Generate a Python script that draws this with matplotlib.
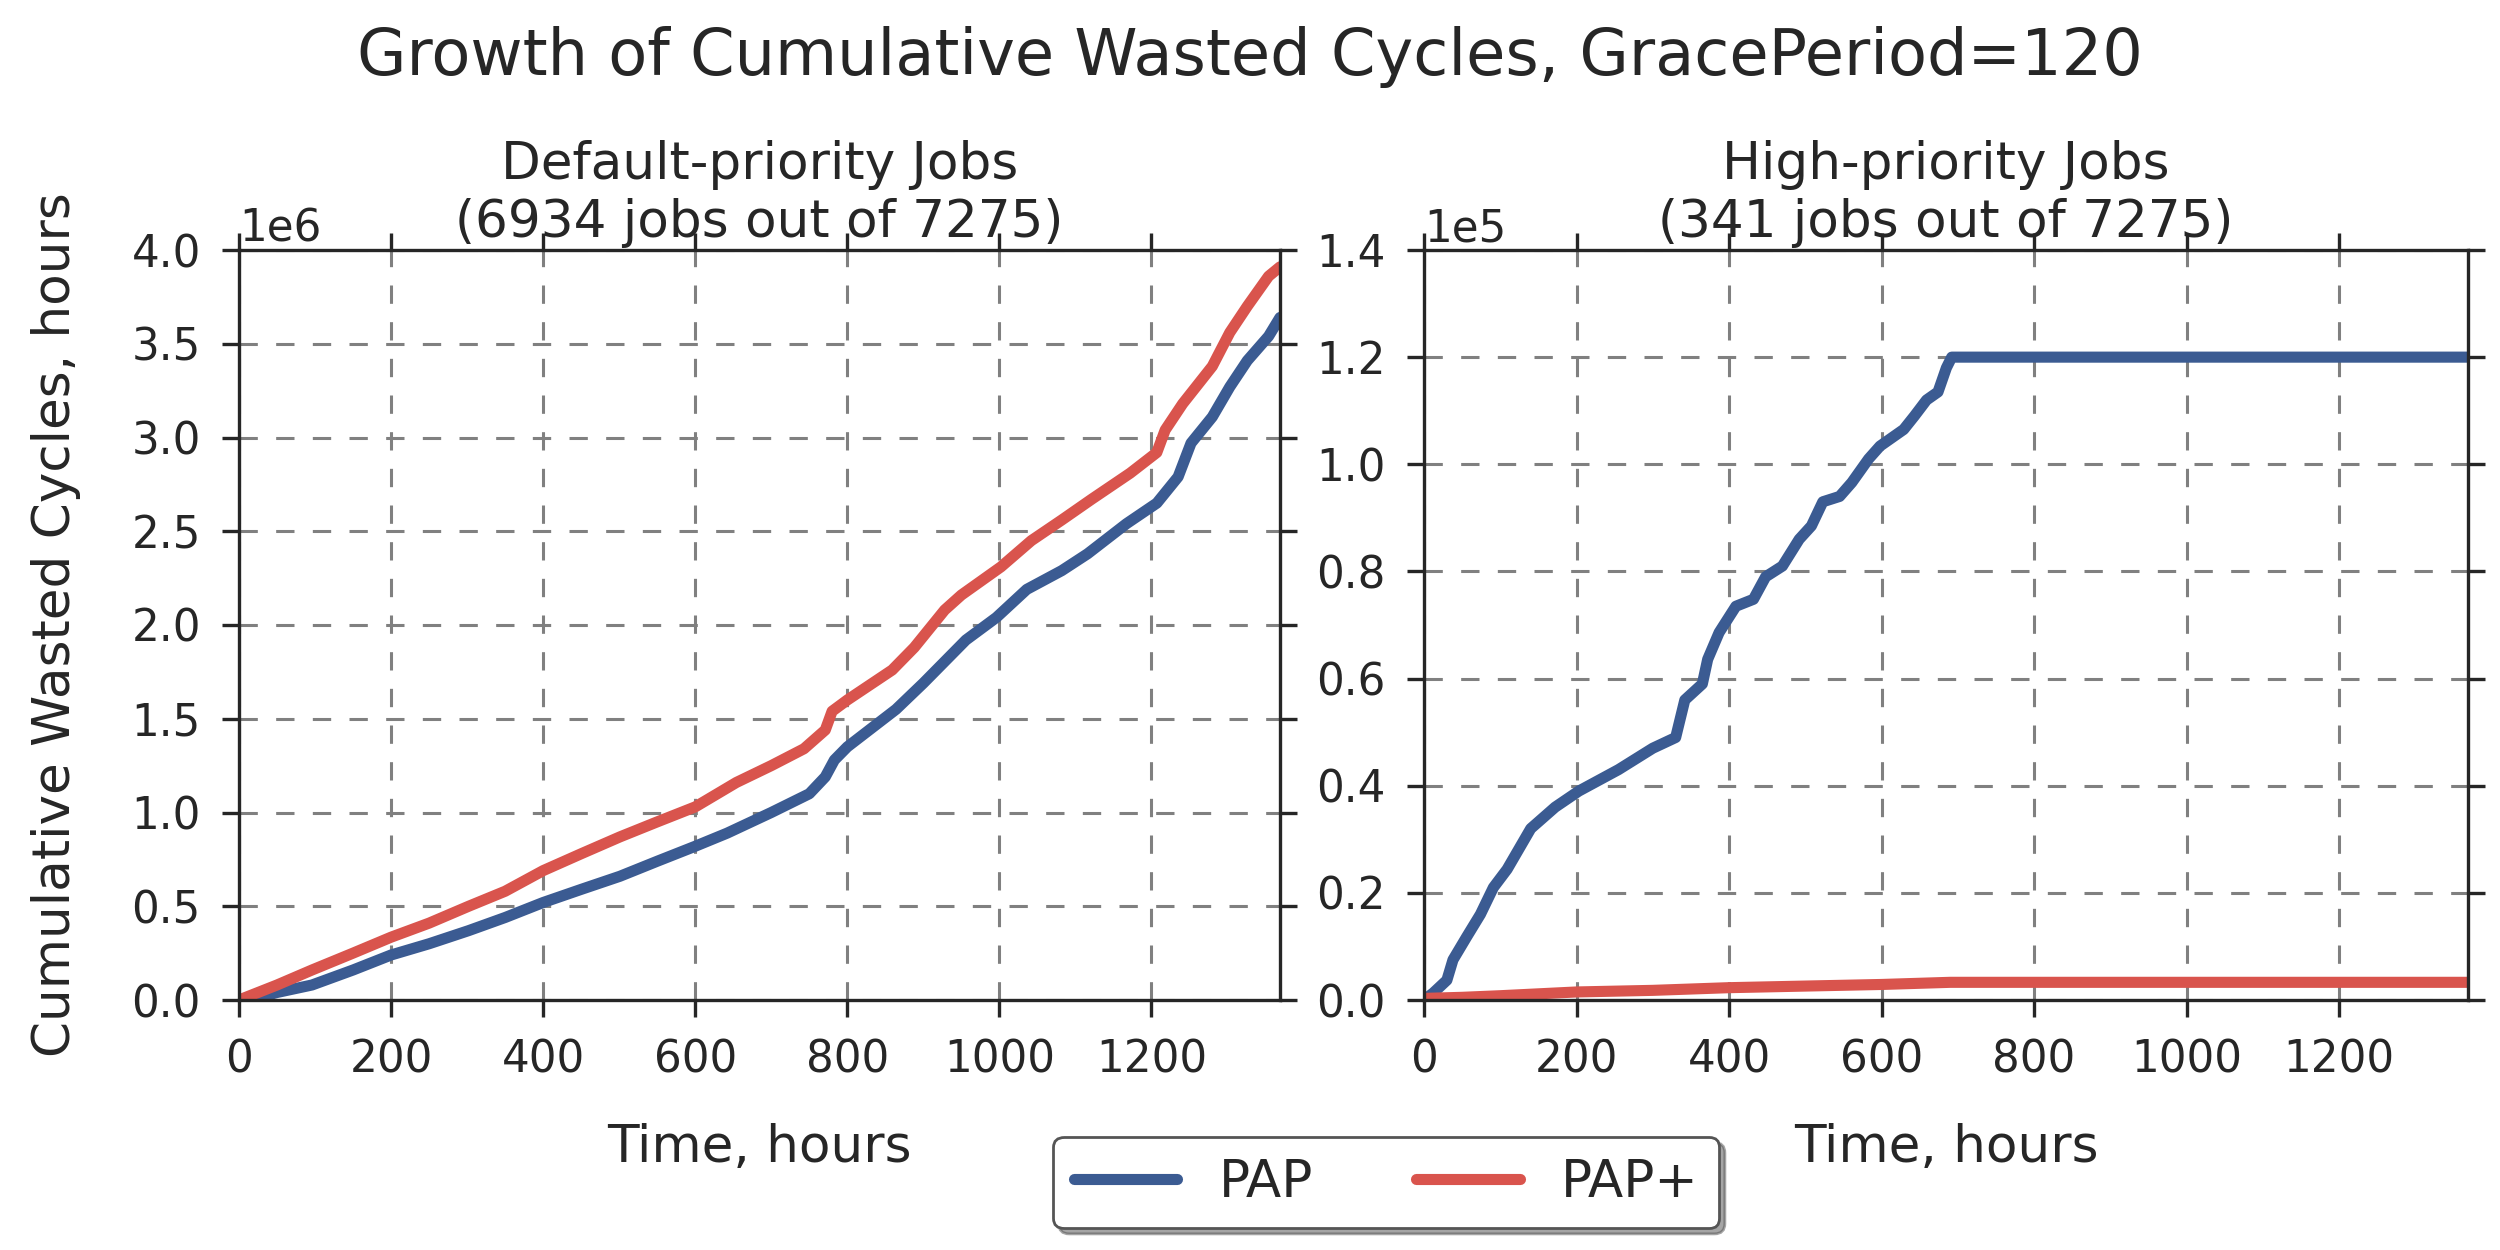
import numpy as np
import matplotlib
matplotlib.use("Agg")
import matplotlib.pyplot as plt

# ---------------- data ----------------
suptitle = "Growth of Cumulative Wasted Cycles, GracePeriod=120"
panel_titles = ["Default-priority Jobs\n(6934 jobs out of 7275)",
                "High-priority Jobs\n(341 jobs out of 7275)"]
series_names = ["PAP", "PAP+"]
xlabel = "Time, hours"
ylabel = "Cumulative Wasted Cycles, hours"
x_ticks = [0, 200, 400, 600, 800, 1000, 1200]
left_yticks = [0.0, 0.5, 1.0, 1.5, 2.0, 2.5, 3.0, 3.5, 4.0]      # x 1e6
right_yticks = [0.0, 0.2, 0.4, 0.6, 0.8, 1.0, 1.2, 1.4]          # x 1e5

# Default-priority jobs (values in millions of hours)
dp_pap_t = [0, 15, 50, 96, 150, 200, 250, 302, 350, 400, 450, 501, 550, 600,
            642, 700, 750, 771, 783, 800, 864, 900, 956, 996, 1036, 1082,
            1116, 1167, 1207, 1235, 1252, 1280, 1303, 1326, 1354, 1369]
dp_pap_v = [0.0, 0.0, 0.04, 0.08, 0.16, 0.24, 0.30, 0.37, 0.44, 0.52, 0.59,
            0.66, 0.74, 0.82, 0.89, 1.00, 1.10, 1.19, 1.28, 1.35, 1.55, 1.69,
            1.92, 2.04, 2.19, 2.29, 2.38, 2.54, 2.65, 2.79, 2.97, 3.11, 3.27,
            3.41, 3.54, 3.64]
dp_papp_t = [0, 50, 96, 150, 200, 250, 302, 350, 400, 450, 501, 550, 600, 654,
             700, 743, 771, 780, 800, 859, 888, 928, 950, 1002, 1042, 1082,
             1121, 1172, 1207, 1218, 1241, 1280, 1303, 1326, 1354, 1369]
dp_papp_v = [0.0, 0.08, 0.16, 0.25, 0.335, 0.41, 0.50, 0.58, 0.69, 0.78, 0.87,
             0.95, 1.03, 1.16, 1.25, 1.34, 1.44, 1.54, 1.60, 1.76, 1.88, 2.08,
             2.16, 2.31, 2.45, 2.56, 2.67, 2.81, 2.92, 3.04, 3.18, 3.38, 3.56,
             3.70, 3.86, 3.91]

# High-priority jobs (values in units of 1e5 hours)
hp_pap_t = [0, 12, 30, 38, 56, 74, 91, 109, 140, 172, 203, 255, 300, 330, 342,
            365, 372, 387, 409, 432, 448, 470, 492, 508, 523, 545, 561, 583,
            598, 629, 643, 659, 674, 685, 692, 1369]
hp_pap_v = [0.0, 0.013, 0.037, 0.075, 0.118, 0.16, 0.21, 0.244, 0.32, 0.36,
            0.39, 0.43, 0.47, 0.49, 0.56, 0.59, 0.636, 0.686, 0.735, 0.748,
            0.79, 0.81, 0.86, 0.885, 0.93, 0.94, 0.966, 1.01, 1.034, 1.065,
            1.09, 1.12, 1.135, 1.18, 1.20, 1.20]
hp_papp_t = [0, 50, 100, 200, 300, 400, 500, 600, 690, 1369]
hp_papp_v = [0.003, 0.005, 0.008, 0.015, 0.018, 0.023, 0.026, 0.029, 0.033, 0.033]

colors = ["#3b5b92", "#d9544d"]   # denim blue, pale red

# ---------------- style ----------------
dark = "#262626"
plt.rcParams.update({
    "font.family": ["DejaVu Sans"],
    "text.color": dark,
    "axes.labelcolor": dark,
    "xtick.color": dark,
    "ytick.color": dark,
    "axes.edgecolor": dark,
    "axes.linewidth": 1.2,
})

fig = plt.figure(figsize=(12.5, 6.25), dpi=200)
ax1 = fig.add_axes([0.0956, 0.2, 0.4164, 0.6])
ax2 = fig.add_axes([0.5696, 0.2, 0.4176, 0.6])

def style(ax, yticks, scale, ymax):
    ax.set_xlim(0, 1369)
    ax.set_ylim(0, ymax)
    ax.set_xticks(x_ticks)
    ax.set_yticks([v * scale for v in yticks])
    ax.ticklabel_format(axis="y", style="sci", scilimits=(0, 0))
    ax.tick_params(axis="both", which="major", direction="out", length=6,
                   width=1.2, labelsize=15.7, pad=7.7,
                   top=True, right=True, labeltop=False, labelright=False)
    ax.yaxis.get_offset_text().set_fontsize(15.7)
    ax.grid(True, color="#808080", linestyle=(0, (6, 6)), linewidth=1.1)
    ax.set_axisbelow(True)
    ax.set_xlabel(xlabel, fontsize=18.6, labelpad=15)

style(ax1, left_yticks, 1e6, 4.0e6)
style(ax2, right_yticks, 1e5, 1.4e5)

lw = 4.0
l1, = ax1.plot(dp_pap_t, np.array(dp_pap_v) * 1e6, color=colors[0], lw=lw,
               solid_capstyle="round", solid_joinstyle="round", label=series_names[0])
l2, = ax1.plot(dp_papp_t, np.array(dp_papp_v) * 1e6, color=colors[1], lw=lw,
               solid_capstyle="round", solid_joinstyle="round", label=series_names[1])
ax2.plot(hp_pap_t, np.array(hp_pap_v) * 1e5, color=colors[0], lw=lw,
         solid_capstyle="round", solid_joinstyle="round")
ax2.plot(hp_papp_t, np.array(hp_papp_v) * 1e5, color=colors[1], lw=lw,
         solid_capstyle="round", solid_joinstyle="round")

ax1.set_title(panel_titles[0], fontsize=18.6, pad=4.7)
ax2.set_title(panel_titles[1], fontsize=18.6, pad=4.7)
ax1.set_ylabel(ylabel, fontsize=18.6, labelpad=18)

fig.text(0.5, 0.94, suptitle, ha="center", va="baseline", fontsize=23)

leg = fig.legend(handles=[l1, l2], labels=series_names, loc="upper center",
                 bbox_to_anchor=(0.5545, 0.0904), borderaxespad=0, ncol=2,
                 fontsize=18.6, frameon=True, fancybox=True, shadow=True,
                 framealpha=1.0)
leg.get_frame().set_edgecolor("#555555")
leg.get_frame().set_linewidth(1.0)

fig.savefig("out.png", dpi=200, facecolor="white")
